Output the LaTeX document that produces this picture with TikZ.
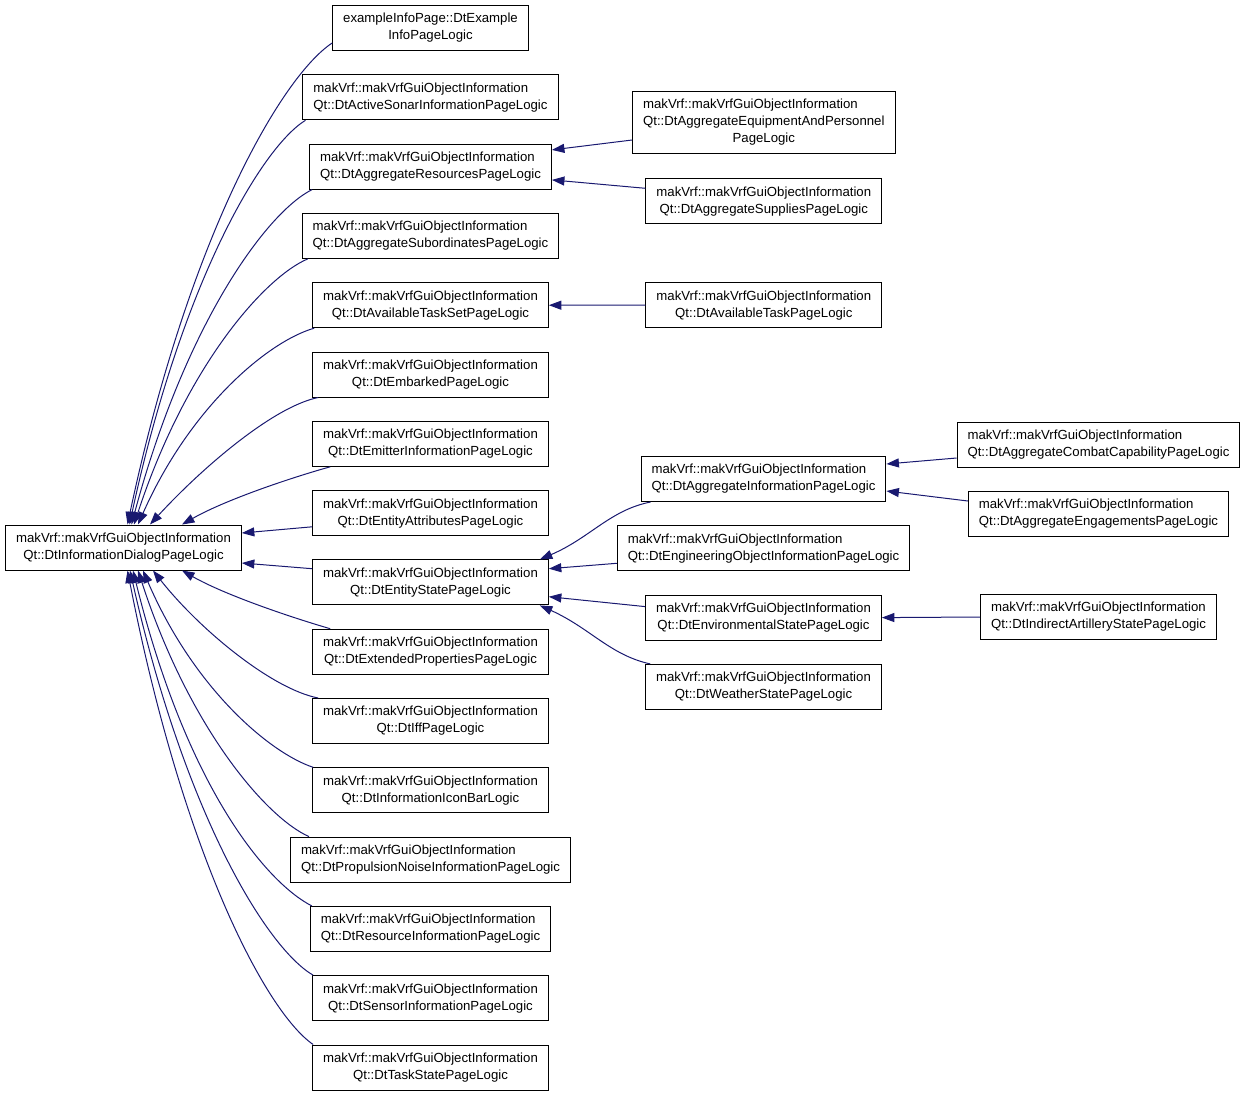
\documentclass[tikz,border=0pt]{standalone}
\usepackage{fontspec}
\setmainfont{Liberation Sans}
\usetikzlibrary{arrows.meta,positioning}
\definecolor{edgeblue}{RGB}{25,25,112}
\newcommand{\mvgoi}{makVrf::makVrfGuiObjectInformation}
\newcommand{\clsname}[2]{\begin{tabular}{@{}l@{}}#1\\\multicolumn{1}{@{}c@{}}{#2}\end{tabular}}
\tikzset{
    cls/.style={draw=black,line width=1pt,rectangle,inner xsep=10.5pt,inner ysep=5.5pt,
        font=\fontsize{13.2}{17}\selectfont},
    dep/.style={draw=edgeblue,line width=1pt,-{Triangle[length=12.5pt,width=9pt]}}
}

\begin{document}
\begin{tikzpicture}[x=1pt,y=-1pt,node distance=69.3pt]
    \useasboundingbox (0,0) rectangle (1245,1096);
    % base class
    \node[cls] (main) at (123.5,547.5) {\clsname{\mvgoi}{Qt::DtInformationDialogPageLogic}};
    % first column
    \node[cls] (info) at (430.5,28) {\clsname{exampleInfoPage::DtExample}{InfoPageLogic}};
    \node[cls] (sonar)     [below of=info]      {\clsname{\mvgoi}{Qt::DtActiveSonarInformationPageLogic}};
    \node[cls] (aggres)    [below of=sonar]     {\clsname{\mvgoi}{Qt::DtAggregateResourcesPageLogic}};
    \node[cls] (aggsub)    [below of=aggres]    {\clsname{\mvgoi}{Qt::DtAggregateSubordinatesPageLogic}};
    \node[cls] (taskset)   [below of=aggsub]    {\clsname{\mvgoi}{Qt::DtAvailableTaskSetPageLogic}};
    \node[cls] (embarked)  [below of=taskset]   {\clsname{\mvgoi}{Qt::DtEmbarkedPageLogic}};
    \node[cls] (emitter)   [below of=embarked]  {\clsname{\mvgoi}{Qt::DtEmitterInformationPageLogic}};
    \node[cls] (entattr)   [below of=emitter]   {\clsname{\mvgoi}{Qt::DtEntityAttributesPageLogic}};
    \node[cls] (entstate)  [below of=entattr]   {\clsname{\mvgoi}{Qt::DtEntityStatePageLogic}};
    \node[cls] (extprop)   [below of=entstate]  {\clsname{\mvgoi}{Qt::DtExtendedPropertiesPageLogic}};
    \node[cls] (iff)       [below of=extprop]   {\clsname{\mvgoi}{Qt::DtIffPageLogic}};
    \node[cls] (iconbar)   [below of=iff]       {\clsname{\mvgoi}{Qt::DtInformationIconBarLogic}};
    \node[cls] (propnoise) [below of=iconbar]   {\clsname{\mvgoi}{Qt::DtPropulsionNoiseInformationPageLogic}};
    \node[cls] (resinfo)   [below of=propnoise] {\clsname{\mvgoi}{Qt::DtResourceInformationPageLogic}};
    \node[cls] (sensor)    [below of=resinfo]   {\clsname{\mvgoi}{Qt::DtSensorInformationPageLogic}};
    \node[cls] (taskstate) [below of=sensor]    {\clsname{\mvgoi}{Qt::DtTaskStatePageLogic}};
    % second column
    \node[cls] (aggequip) at (763.8,122.2) {\clsname{\mvgoi\\Qt::DtAggregateEquipmentAndPersonnel}{PageLogic}};
    \node[cls] (aggsupp) at (763.8,201.2) {\clsname{\mvgoi}{Qt::DtAggregateSuppliesPageLogic}};
    \node[cls] (availtask) at (763.8,305.2) {\clsname{\mvgoi}{Qt::DtAvailableTaskPageLogic}};
    \node[cls] (agginfo) at (763.5,479) {\clsname{\mvgoi}{Qt::DtAggregateInformationPageLogic}};
    \node[cls] (engobj)   [below of=agginfo] {\clsname{\mvgoi}{Qt::DtEngineeringObjectInformationPageLogic}};
    \node[cls] (envstate) [below of=engobj]  {\clsname{\mvgoi}{Qt::DtEnvironmentalStatePageLogic}};
    \node[cls] (weather)  [below of=envstate] {\clsname{\mvgoi}{Qt::DtWeatherStatePageLogic}};
    % third column
    \node[cls] (combat) at (1098.5,444.5) {\clsname{\mvgoi}{Qt::DtAggregateCombatCapabilityPageLogic}};
    \node[cls] (engage) at (1098.5,513.5) {\clsname{\mvgoi}{Qt::DtAggregateEngagementsPageLogic}};
    \node[cls] (indirect) at (1098.5,617) {\clsname{\mvgoi}{Qt::DtIndirectArtilleryStatePageLogic}};

    % edges into the base class
    \draw[dep] ([yshift=8]info.south west) .. controls (282,76) and (189,235) .. ([xshift=4]main.north);
    \draw[dep] ([xshift=3]sonar.south west) .. controls (262,147) and (182,281) .. ([xshift=6]main.north);
    \draw[dep] ([xshift=3]aggres.south west) .. controls (267,212) and (185.5,323) .. ([xshift=8]main.north);
    \draw[dep] ([xshift=6]aggsub.south west) .. controls (265,277) and (186.5,365) .. ([xshift=10.5]main.north);
    \draw[dep] ([xshift=2]taskset.south west) .. controls (269,341) and (190.5,406) .. ([xshift=14.5]main.north);
    \draw[dep] ([xshift=6]embarked.south west) .. controls (272,407) and (200,470) .. ([xshift=26.5]main.north);
    \draw[dep] ([xshift=18]emitter.south west) .. controls (290,478) and (225,500) .. ([xshift=58.5]main.north);
    \draw[dep] ([yshift=-13.7]entattr.west) -- ([yshift=14.5]main.east);
    \draw[dep] ([yshift=13.7]entstate.west) -- ([yshift=-15.5]main.east);
    \draw[dep] ([xshift=18]extprop.north west) .. controls (290,617) and (225,595) .. ([xshift=58.5]main.south);
    \draw[dep] ([xshift=6]iff.north west) .. controls (272,689) and (200,630) .. ([xshift=29.5]main.south);
    \draw[dep] ([xshift=1]iconbar.north west) .. controls (270,753) and (194,689) .. ([xshift=19.5]main.south);
    \draw[dep] ([xshift=19]propnoise.north west) .. controls (267,818) and (190,730) .. ([xshift=14.5]main.south);
    \draw[dep] ([xshift=2]resinfo.north west) .. controls (267,883) and (187,789) .. ([xshift=9.5]main.south);
    \draw[dep] ([xshift=1]sensor.north west) .. controls (266.5,948) and (184.6,814) .. ([xshift=6.5]main.south);
    \draw[dep] ([xshift=1]taskstate.north west) .. controls (266,1012) and (183,855) .. ([xshift=4]main.south);

    % second level
    \draw[dep] ([yshift=-17.8]aggequip.west) -- ([yshift=16.7]aggres.east);
    \draw[dep] ([yshift=12.9]aggsupp.west) -- ([yshift=-13.3]aggres.east);
    \draw[dep] (availtask.west) -- (taskset.east);
    \draw[dep] ([xshift=10]agginfo.south west) .. controls (610,510) and (590,538) .. ([xshift=-9]entstate.north east);
    \draw[dep] ([yshift=-15]engobj.west) -- ([yshift=13.7]entstate.east);
    \draw[dep] ([yshift=11]envstate.west) -- ([yshift=-14.3]entstate.east);
    \draw[dep] ([xshift=5]weather.north west) .. controls (610,655) and (590,628) .. ([xshift=-9]entstate.south east);

    % third level
    \draw[dep] ([yshift=-13.5]combat.west) -- ([yshift=15]agginfo.east);
    \draw[dep] ([yshift=12.5]engage.west) -- ([yshift=-12]agginfo.east);
    \draw[dep] (indirect.west) -- (envstate.east);
\end{tikzpicture}
\end{document}
